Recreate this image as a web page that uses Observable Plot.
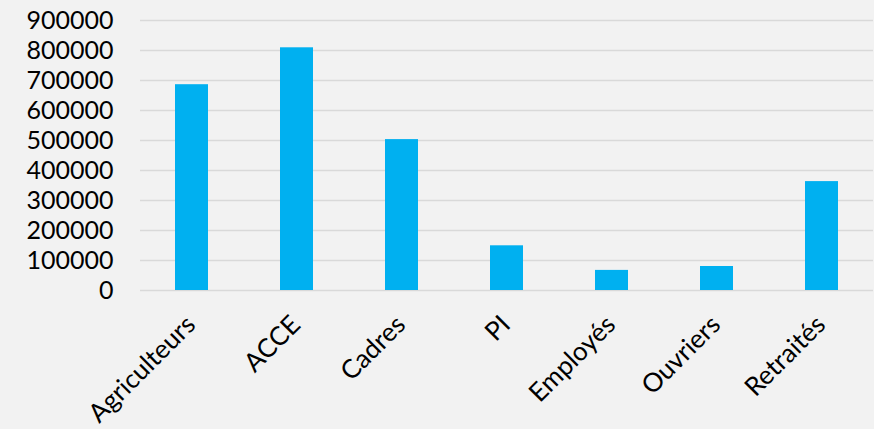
<!DOCTYPE html>
<html>
<head>
<meta charset="utf-8">
<script src="https://cdn.jsdelivr.net/npm/d3@7"></script>
<script src="https://cdn.jsdelivr.net/npm/@observablehq/plot@0.6"></script>
<style>
  html, body { margin: 0; padding: 0; background: #f2f2f2; }
  #chart svg { display: block; background: #f2f2f2; }
</style>
</head>
<body>
<div id="chart"></div>
<script>
const categories = ["Agriculteurs", "ACCE", "Cadres", "PI", "Employés", "Ouvriers", "Retraités"];
const values = [686000, 809000, 503000, 149000, 67000, 80000, 363000];
const yTicks = [0, 100000, 200000, 300000, 400000, 500000, 600000, 700000, 800000, 900000];

const data = categories.map((c, i) => ({category: c, value: values[i]}));

const chart = Plot.plot({
  width: 874,
  height: 429,
  marginLeft: 140,
  marginRight: 1,
  marginTop: 20,
  marginBottom: 139,
  style: {background: "#f2f2f2", fontFamily: "Lato, sans-serif", color: "#000"},
  x: {domain: categories, paddingInner: 0.685, paddingOuter: 0.33, label: null},
  y: {domain: [0, 900000], label: null},
  marks: [
    Plot.gridY(yTicks, {stroke: "#d9d9d9", strokeOpacity: 1, strokeWidth: 1.5}),
    Plot.barY(data, {x: "category", y: "value", fill: "#00b0f0"}),
    Plot.axisY(yTicks, {tickSize: 0, tickPadding: 27, fontSize: 25, tickFormat: d => String(d), label: null}),
    Plot.axisX({tickRotate: -45, tickSize: 0, tickPadding: 14, dx: -1, dy: 16, fontSize: 26, label: null})
  ]
});
document.getElementById("chart").appendChild(chart);
</script>
</body>
</html>
